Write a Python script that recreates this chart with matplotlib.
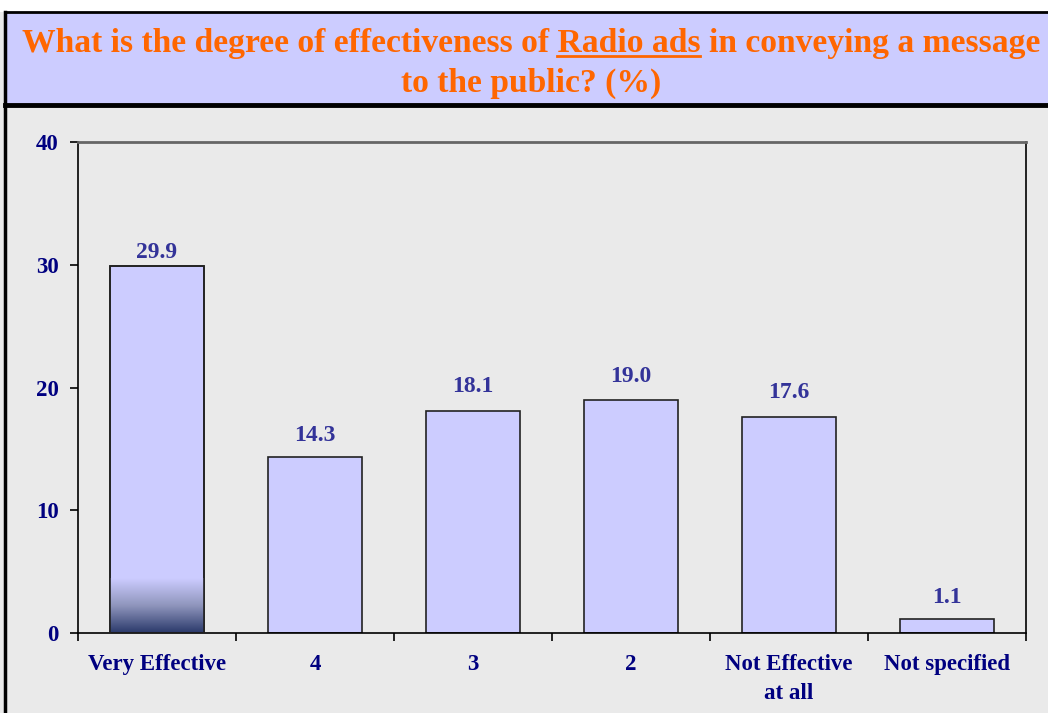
import matplotlib
matplotlib.use("Agg")
import matplotlib.pyplot as plt
import numpy as np
from matplotlib.patches import Rectangle
from matplotlib.lines import Line2D
from matplotlib.colors import LinearSegmentedColormap

categories = ["Very Effective", "4", "3", "2", "Not Effective\nat all", "Not specified"]
values = [29.9, 14.3, 18.1, 19.0, 17.6, 1.1]
y_ticks = [0, 10, 20, 30, 40]

title_pre = "What is the degree of effectiveness of "
title_mid = "Radio ads"
title_post = " in conveying a message"
title_line2 = "to the public? (%)"

plt.rcParams['font.family'] = ['Liberation Serif', 'DejaVu Serif']
plt.rcParams['font.weight'] = 'bold'

W, H = 1048, 713
fig = plt.figure(figsize=(W / 100, H / 100), dpi=100)
fig.patch.set_facecolor('#EAEAEA')

# white strip on top, title box, left border
fig.patches.append(Rectangle((0, (H - 12) / H), 1, 12 / H, transform=fig.transFigure,
                             facecolor='white', edgecolor='none', zorder=0))
fig.patches.append(Rectangle((5 / W, (H - 105) / H), 1.1, 93 / H, transform=fig.transFigure,
                             facecolor='#CCCCFF', edgecolor='black', linewidth=2, zorder=1))
fig.lines.append(Line2D([5 / W, 1], [(H - 105) / H] * 2, transform=fig.transFigure,
                        color='black', linewidth=3.5, zorder=2))
fig.lines.append(Line2D([5 / W, 5 / W], [0, (H - 12) / H], transform=fig.transFigure,
                        color='black', linewidth=2.5, zorder=2))

# title, underline on "Radio ads"
orange = '#FF6600'
r = fig.canvas.get_renderer()
line1 = title_pre + title_mid + title_post
probe = fig.text(0, 0, line1, fontsize=22, weight='bold')
fs = 22 * 1018 / probe.get_window_extent(r).width
probe.remove()

def text_w(s):
    t = fig.text(0, 0, s, fontsize=fs, weight='bold')
    w = t.get_window_extent(r).width
    t.remove()
    return w

cx = 531
full_w = text_w(line1)
pre_mid_w = text_w(title_pre + title_mid)
mid_w = text_w(title_mid)
fig.text(cx / W, (H - 52) / H, line1, fontsize=fs, weight='bold', color=orange,
         ha='center', va='baseline', zorder=3)
fig.text(cx / W, (H - 92) / H, title_line2, fontsize=fs, weight='bold', color=orange,
         ha='center', va='baseline', zorder=3)
x0 = cx - full_w / 2 + pre_mid_w - mid_w
x1 = cx - full_w / 2 + pre_mid_w
fig.lines.append(Line2D([x0 / W, x1 / W], [(H - 56) / H] * 2, transform=fig.transFigure,
                        color=orange, linewidth=2, zorder=3))

# plot area
ax = fig.add_axes([78 / W, (H - 633) / H, 948 / W, 491 / H])
ax.set_facecolor('#EAEAEA')
x = np.arange(len(categories))
bw = 0.59
bars = ax.bar(x, values, width=bw, color='#CCCCFF', edgecolor='#222222', linewidth=1.2, zorder=2)

# dark gradient at the bottom of the first bar
cmap = LinearSegmentedColormap.from_list('g', ['#2B3A6B', '#8F95BC', '#CCCCFF'])
grad = np.linspace(0, 1, 100).reshape(-1, 1)
b0 = bars[0]
im = ax.imshow(grad, cmap=cmap, origin='lower', aspect='auto', zorder=2.5,
               extent=[b0.get_x(), b0.get_x() + bw, 0, 4.4])
im.set_clip_path(b0)
ax.bar(x[:1], values[:1], width=bw, color='none', edgecolor='#222222', linewidth=1.2, zorder=3)

offsets = [2, 8, 10, 9, 10, 8]
for xi, v, off in zip(x, values, offsets):
    ax.annotate(f"{v:.1f}", (xi, v), xytext=(0, off), textcoords='offset points',
                ha='center', va='bottom', fontsize=17, weight='bold', color='#333399')

ax.set_xlim(-0.5, len(categories) - 0.5)
ax.set_ylim(0, 40)
ax.set_yticks(y_ticks)
ax.set_yticklabels([str(t) for t in y_ticks])
ax.set_xticks(x)
ax.set_xticklabels(categories)
ax.set_xticks(np.arange(len(categories) + 1) - 0.5, minor=True)
ax.tick_params(axis='x', which='major', length=0, pad=15, labelsize=16.5, labelcolor='#000080')
ax.tick_params(axis='x', which='minor', length=6, width=1.2, direction='out')
ax.tick_params(axis='y', length=6, width=1.2, pad=8, labelsize=16.5, labelcolor='#000080')
for lbl in ax.get_xticklabels() + ax.get_yticklabels():
    lbl.set_fontweight('bold')
    lbl.set_linespacing(1.5)

ax.spines['top'].set_color('#666666')
ax.spines['top'].set_linewidth(2)
for s in ['left', 'right', 'bottom']:
    ax.spines[s].set_color('black')
    ax.spines[s].set_linewidth(1.2)

fig.savefig('out.png', dpi=100, facecolor=fig.get_facecolor())
